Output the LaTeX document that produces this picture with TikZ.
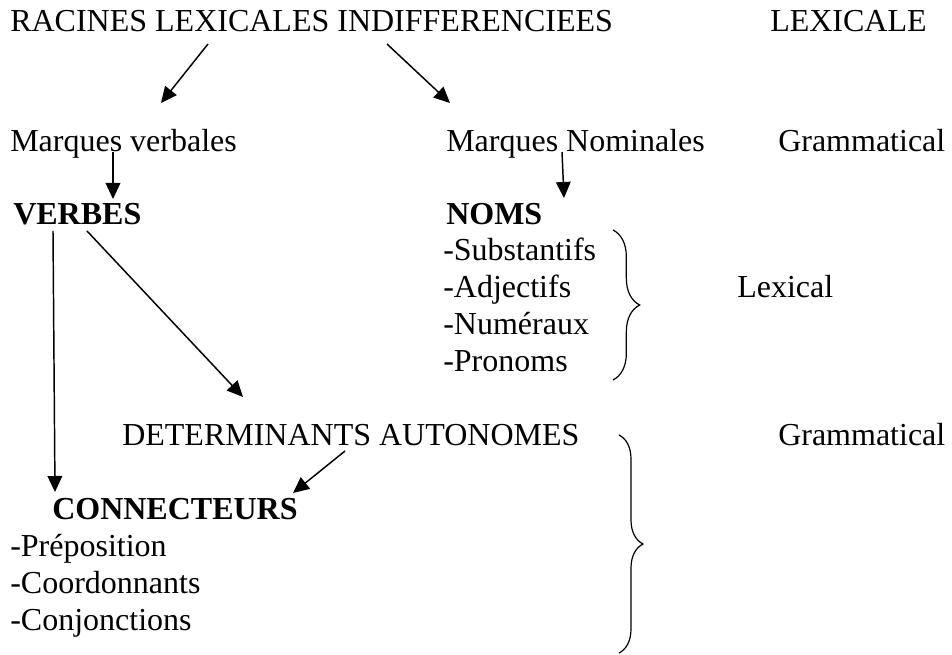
\documentclass[tikz,border=0pt]{standalone}
\usepackage{fontspec}
\setmainfont{Liberation Serif}
\usetikzlibrary{calc,arrows.meta,decorations.pathreplacing}

\begin{document}
\begin{tikzpicture}[x=0.75pt,y=-0.75pt,
  lbl/.style={inner sep=0pt,anchor=base west,font=\fontsize{24}{28}\selectfont},
  fleche/.style={-{Triangle[length=12pt,width=11pt]},line width=1.1pt},
  accol/.style={decorate,decoration={brace,amplitude=#1},line width=0.9pt}]
\useasboundingbox (0,0) rectangle (952,655);

\node[lbl] (racines) at (10,32) {RACINES LEXICALES INDIFFERENCIEES};
\node[lbl] (lexicale) at (770,32) {LEXICALE};

\node[lbl] (mverb) at (10,152) {Marques verbales};
\node[lbl] (mnom) at (446,152) {Marques Nominales};
\node[lbl] (gram1) at (778,152) {Grammatical};

\node[lbl] (verbes) at (13,225) {\textbf{VERBES}};
\node[lbl] (noms) at (446,225) {\textbf{NOMS}};
\node[lbl] (subst) at (443,261) {-Substantifs};
\node[lbl] (adj) at (443,298) {-Adjectifs};
\node[lbl] (num) at (443,335) {-Numéraux};
\node[lbl] (pron) at (443,372) {-Pronoms};
\node[lbl] (lexical) at (737,298) {Lexical};

\node[lbl] (determ) at (122,445) {DETERMINANTS AUTONOMES};
\node[lbl] (gram2) at (778,445) {Grammatical};

\node[lbl] (connect) at (52,519) {\textbf{CONNECTEURS}};
\node[lbl] (prep) at (10,556) {-Préposition};
\node[lbl] (coord) at (10,593) {-Coordonnants};
\node[lbl] (conj) at (10,630) {-Conjonctions};

% fleches
\draw[fleche] ($(racines.base west)+(198,12)$) -- ($(mverb.base west)+(151,-49)$);
\draw[fleche] ($(racines.base west)+(377,12)$) -- ($(mnom.base west)+(4,-49)$);
\draw[fleche] ($(mverb.base west)+(103,0)$) -- ($(verbes.base west)+(100,-26)$);
\draw[fleche] ($(mnom.base west)+(116,0)$) -- ($(noms.base west)+(118,-27)$);
\draw[fleche] ($(verbes.base west)+(40,6)$) -- ($(connect.base west)+(3,-27)$);
\draw[fleche] ($(verbes.base west)+(74,6)$) -- ($(determ.base west)+(121,-48)$);
\draw[fleche] ($(determ.base west)+(223,6)$) -- ($(connect.base west)+(241,-26)$);

% accolades
\draw[accol=20] (613,230) -- (613,380);
\draw[accol=18] (619,435) -- (619,653);
\end{tikzpicture}
\end{document}
